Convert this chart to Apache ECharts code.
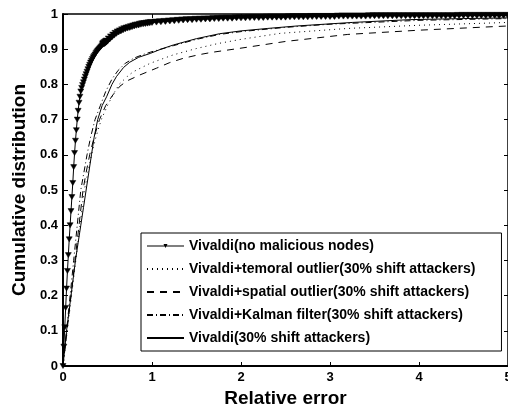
<!DOCTYPE html>
<html><head><meta charset="utf-8">
<script src="https://cdn.jsdelivr.net/npm/echarts@6/dist/echarts.min.js"></script>
<style>html,body{margin:0;padding:0;background:#fff;overflow:hidden}#c{width:508px;height:407px}</style>
</head><body><div id="c"></div>
<script>
// Series names (legend order)
const seriesNames = [
  'Vivaldi(no malicious nodes)',
  'Vivaldi+temoral outlier(30% shift attackers)',
  'Vivaldi+spatial outlier(30% shift attackers)',
  'Vivaldi+Kalman filter(30% shift attackers)',
  'Vivaldi(30% shift attackers)'
];
const xTicks = [0, 1, 2, 3, 4, 5];
const yTicks = [0, 0.1, 0.2, 0.3, 0.4, 0.5, 0.6, 0.7, 0.8, 0.9, 1];

// [relative error, cumulative fraction]
const noMalicious = [
  [0,0],[0.01,0.055],[0.02,0.11],[0.03,0.165],[0.04,0.22],[0.05,0.27],[0.06,0.315],[0.07,0.36],[0.08,0.40],[0.09,0.44],
  [0.10,0.48],[0.11,0.52],[0.12,0.565],[0.13,0.605],[0.14,0.64],[0.15,0.67],[0.16,0.70],[0.17,0.725],[0.18,0.748],[0.19,0.765],
  [0.20,0.78],[0.21,0.79],[0.22,0.798],[0.23,0.806],[0.24,0.814],[0.25,0.822],[0.26,0.829],[0.27,0.836],[0.28,0.843],[0.29,0.85],
  [0.30,0.856],[0.31,0.862],[0.32,0.867],[0.33,0.872],[0.34,0.877],[0.35,0.881],[0.36,0.885],[0.37,0.889],[0.38,0.893],[0.39,0.896],
  [0.40,0.899],[0.41,0.902],[0.42,0.905],[0.43,0.908],[0.44,0.911],[0.45,0.913],[0.46,0.915],[0.47,0.917],[0.48,0.919],[0.49,0.921],
  [0.50,0.923],[0.525,0.929],[0.55,0.935],[0.575,0.94],[0.60,0.945],[0.625,0.949],[0.65,0.952],[0.675,0.955],[0.70,0.958],[0.725,0.96],
  [0.75,0.962],[0.775,0.964],[0.80,0.966],[0.825,0.968],[0.85,0.969],[0.875,0.971],[0.90,0.972],[0.925,0.973],[0.95,0.974],[0.975,0.975],
  [1.00,0.976],[1.05,0.977],[1.10,0.978],[1.15,0.979],[1.20,0.980],[1.25,0.981],[1.30,0.982],[1.35,0.983],[1.40,0.984],[1.45,0.984],
  [1.50,0.985],[1.55,0.985],[1.60,0.986],[1.65,0.986],[1.70,0.987],[1.75,0.987],[1.80,0.988],[1.85,0.988],[1.90,0.988],[1.95,0.989],
  [2.00,0.989],[2.05,0.989],[2.10,0.990],[2.15,0.990],[2.20,0.990],[2.25,0.990],[2.30,0.991],[2.35,0.991],[2.40,0.991],[2.45,0.991],
  [2.50,0.991],[2.55,0.992],[2.60,0.992],[2.65,0.992],[2.70,0.992],[2.75,0.992],[2.80,0.993],[2.85,0.993],[2.90,0.993],[2.95,0.993],
  [3.00,0.993],[3.05,0.993],[3.10,0.994],[3.15,0.994],[3.20,0.994],[3.25,0.994],[3.30,0.994],[3.35,0.994],[3.40,0.994],[3.45,0.995],
  [3.50,0.995],[3.55,0.995],[3.60,0.995],[3.65,0.995],[3.70,0.995],[3.75,0.995],[3.80,0.995],[3.85,0.995],[3.90,0.995],[3.95,0.995],
  [4.00,0.995],[4.05,0.995],[4.10,0.995],[4.15,0.995],[4.20,0.995],[4.25,0.995],[4.30,0.995],[4.35,0.995],[4.40,0.995],[4.45,0.996],
  [4.50,0.996],[4.55,0.996],[4.60,0.996],[4.65,0.996],[4.70,0.996],[4.75,0.996],[4.80,0.996],[4.85,0.996],[4.90,0.996],[4.95,0.996],
  [5.00,0.996]
];
const temporalOutlier = [
  [0,0],[0.048,0.1],[0.096,0.2],[0.144,0.3],[0.192,0.4],[0.24,0.5],[0.28,0.55],[0.32,0.6],[0.37,0.65],[0.43,0.7],
  [0.5,0.74],[0.56,0.77],[0.63,0.8],[0.72,0.822],[0.79,0.836],[0.98,0.86],[1.24,0.884],[1.5,0.902],[1.74,0.916],
  [2.0,0.928],[2.44,0.945],[3.2,0.959],[4.0,0.968],[5.0,0.976]
];
const spatialOutlier = [
  [0,0],[0.045,0.1],[0.09,0.2],[0.135,0.3],[0.18,0.4],[0.225,0.5],[0.26,0.55],[0.3,0.6],[0.35,0.65],[0.41,0.7],
  [0.48,0.74],[0.56,0.77],[0.64,0.795],[0.72,0.81],[0.865,0.827],[1.05,0.846],[1.2,0.862],[1.35,0.874],[1.52,0.884],
  [1.67,0.891],[2.0,0.903],[2.5,0.922],[3.2,0.942],[4.0,0.954],[4.83,0.964],[5.0,0.966]
];
const kalmanFilter = [
  [0,0],[0.04,0.1],[0.08,0.2],[0.12,0.3],[0.16,0.4],[0.2,0.5],[0.235,0.55],[0.27,0.6],[0.31,0.65],[0.36,0.7],
  [0.42,0.74],[0.48,0.78],[0.55,0.815],[0.62,0.84],[0.7,0.86],[0.8,0.875],[0.9,0.885],[1.0,0.893],[1.24,0.91],
  [1.5,0.928],[1.76,0.942],[2.0,0.95],[2.5,0.962],[3.0,0.971],[4.0,0.982],[5.0,0.987]
];
const shiftAttack = [
  [0,0],[0.02,0.05],[0.04,0.1],[0.065,0.15],[0.09,0.2],[0.115,0.25],[0.14,0.3],[0.17,0.35],[0.2,0.4],[0.23,0.45],
  [0.26,0.5],[0.29,0.55],[0.32,0.6],[0.35,0.65],[0.39,0.7],[0.44,0.74],[0.49,0.765],[0.55,0.8],[0.6,0.822],[0.68,0.848],
  [0.75,0.863],[0.85,0.877],[0.98,0.888],[1.1,0.9],[1.24,0.912],[1.5,0.93],[1.76,0.944],[2.0,0.952],[2.3,0.959],
  [2.63,0.966],[3.0,0.972],[3.25,0.976],[3.9,0.984],[4.5,0.987],[5.0,0.989]
];

const font = 'Liberation Sans, Arial, sans-serif';
const el = document.getElementById('c');
const chart = echarts.init(el, null, {renderer: 'canvas', width: 508, height: 407});
const lineBase = {type: 'line', showSymbol: false, symbol: 'none', animation: false, smooth: false, color: '#000'};
const fmt = v => String(+(+v).toFixed(1));
const hiddenSym = {opacity: 0};

chart.setOption({
  animation: false,
  backgroundColor: '#fff',
  grid: {left: 63, right: 0, top: 14, bottom: 41, containLabel: false, outerBoundsMode: 'none'},
  legend: {
    orient: 'vertical', left: 141, top: 233,
    padding: [6, 26, 6, 5],
    itemWidth: 37, itemHeight: 14, itemGap: 9,
    borderColor: '#000', borderWidth: 1, borderRadius: 0, backgroundColor: '#fff',
    textStyle: {fontFamily: font, fontWeight: 'bold', fontSize: 14, color: '#000'},
    data: [
      {name: seriesNames[0], icon: 'path://M0,1.5H37V2.5H0Z M16.5,0H20.5L18.5,4Z',
       itemStyle: {color: '#000', borderWidth: 0}},
      {name: seriesNames[1], itemStyle: hiddenSym},
      {name: seriesNames[2], itemStyle: hiddenSym},
      {name: seriesNames[3], itemStyle: hiddenSym},
      {name: seriesNames[4], itemStyle: hiddenSym}
    ]
  },
  xAxis: [
    {type: 'value', position: 'bottom', min: 0, max: 5, interval: 1,
     name: 'Relative error', nameLocation: 'middle', nameGap: 20,
     nameTextStyle: {fontFamily: font, fontWeight: 'bold', fontSize: 19, color: '#000'},
     axisLine: {show: true, onZero: false, lineStyle: {color: '#000', width: 2}},
     axisTick: {show: true, inside: true, length: 4, lineStyle: {color: '#000', width: 1}},
     axisLabel: {fontFamily: font, fontWeight: 'bold', fontSize: 13, color: '#000', margin: 5, formatter: fmt,
                 customValues: xTicks},
     splitLine: {show: false}},
    {type: 'value', position: 'top', min: 0, max: 5, interval: 1,
     axisLine: {show: true, onZero: false, lineStyle: {color: '#000', width: 1.5}},
     axisTick: {show: true, inside: true, length: 4, lineStyle: {color: '#000'}},
     axisLabel: {show: false}, splitLine: {show: false}}
  ],
  yAxis: [
    {type: 'value', position: 'left', min: 0, max: 1, interval: 0.1,
     name: 'Cumulative distribution', nameLocation: 'middle', nameGap: 28,
     nameTextStyle: {fontFamily: font, fontWeight: 'bold', fontSize: 19, color: '#000'},
     axisLine: {show: true, onZero: false, lineStyle: {color: '#000', width: 2}},
     axisTick: {show: true, inside: true, length: 5, lineStyle: {color: '#000'}},
     axisLabel: {fontFamily: font, fontWeight: 'bold', fontSize: 13, color: '#000', margin: 5, formatter: fmt,
                 customValues: yTicks},
     splitLine: {show: false}},
    {type: 'value', position: 'right', min: 0, max: 1, interval: 0.1,
     axisLine: {show: true, onZero: false, lineStyle: {color: '#000', width: 1.5}},
     axisTick: {show: true, inside: true, length: 4, lineStyle: {color: '#000'}},
     axisLabel: {show: false}, splitLine: {show: false}}
  ],
  series: [
    Object.assign({}, lineBase, {name: seriesNames[4], data: shiftAttack, z: 2,
      lineStyle: {color: '#000', width: 1, type: 'solid'}}),
    Object.assign({}, lineBase, {name: seriesNames[1], data: temporalOutlier, z: 2,
      lineStyle: {color: '#000', width: 1, type: [1, 4]}}),
    Object.assign({}, lineBase, {name: seriesNames[2], data: spatialOutlier, z: 2,
      lineStyle: {color: '#000', width: 1, type: [7, 6]}}),
    Object.assign({}, lineBase, {name: seriesNames[3], data: kalmanFilter, z: 2,
      lineStyle: {color: '#000', width: 1, type: [6, 3, 1, 3]}}),
    {type: 'line', name: seriesNames[0], data: noMalicious, z: 3, animation: false,
      showSymbol: true, symbol: 'triangle', symbolRotate: 180,
      symbolSize: v => (v[0] > 0.45 ? [9, 6] : [6, 5]), color: '#000',
      itemStyle: {color: '#000', borderColor: '#000', borderWidth: 0.5},
      lineStyle: {color: '#000', width: 1, type: 'solid'}}
  ]
});
</script></body></html>
